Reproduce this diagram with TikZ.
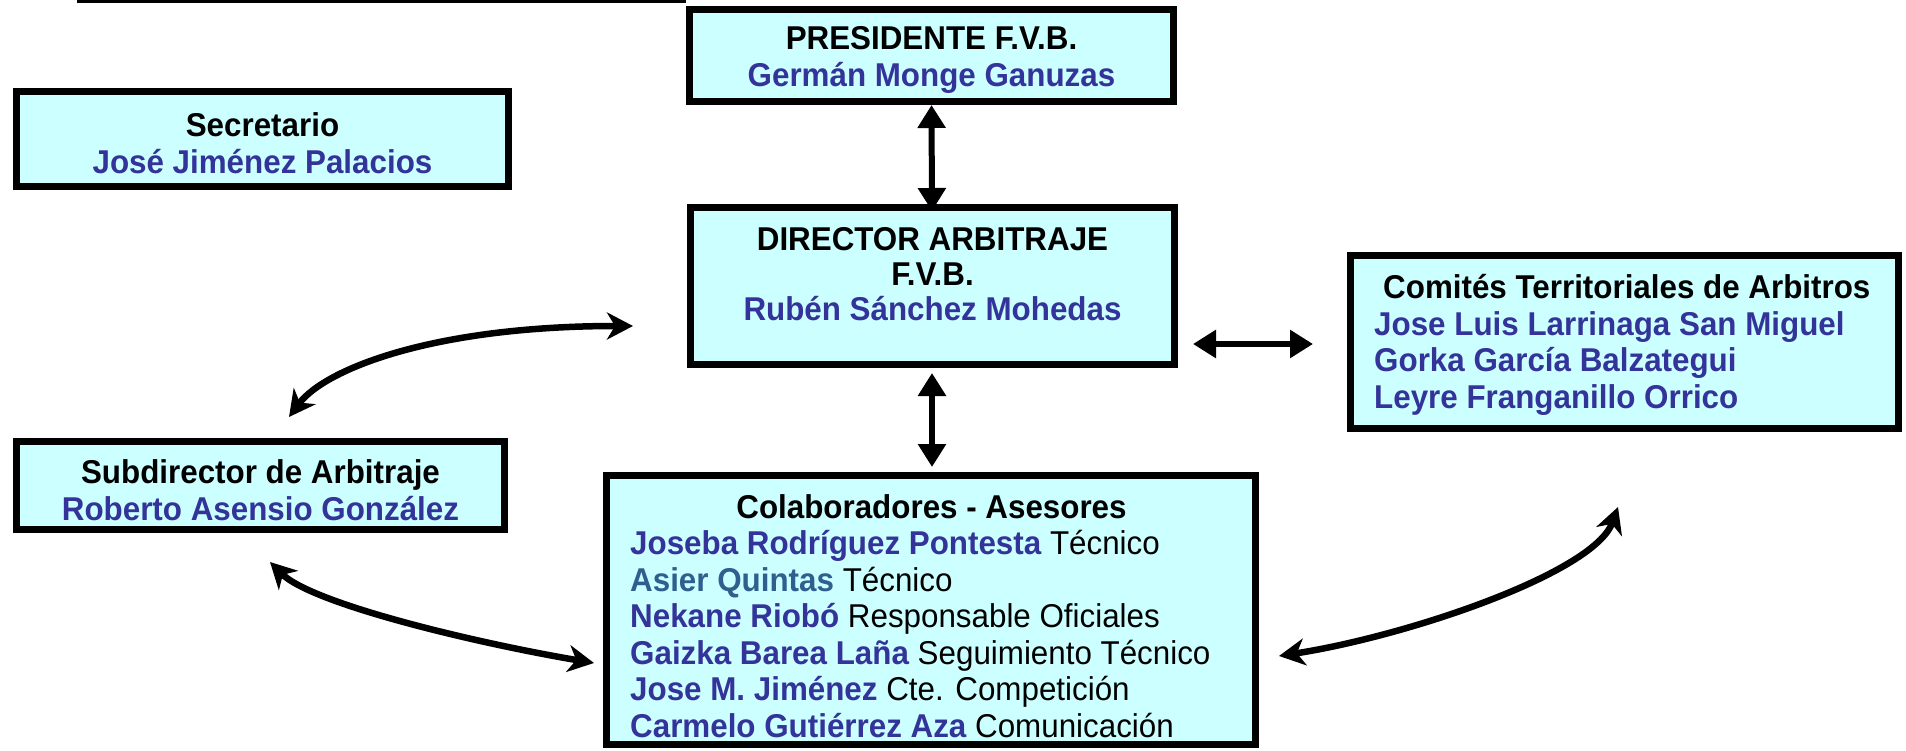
\documentclass[tikz,border=0pt]{standalone}
\usepackage{fontspec}
\setmainfont{Liberation Sans}[FakeStretch=0.95]
\usetikzlibrary{arrows.meta,calc}
\definecolor{boxfill}{HTML}{CCFFFF}
\definecolor{nameblue}{HTML}{333399}
\definecolor{tealblue}{HTML}{2F5F8F}
\begin{document}
\begin{tikzpicture}[x=1pt,y=-1pt,
  box/.style={draw=black, line width=7pt, fill=boxfill, inner sep=0pt},
  txt/.style={font=\fontsize{33}{36.5}\selectfont\bfseries, inner sep=0pt},
  dbl/.style={line width=6pt, {Triangle[width=27pt,length=23pt]}-{Triangle[width=27pt,length=23pt]}},
  crv/.style={line width=6.5pt, {Stealth[width=27pt,length=26pt,inset=8pt]}-{Stealth[width=27pt,length=26pt,inset=8pt]}}]
\useasboundingbox (0,0) rectangle (1906,751);
\fill[white] (0,0) rectangle (1906,751);
% top rule
\draw[line width=3pt] (77,1.5) -- (686,1.5);
% boxes
\node[box, minimum width=484pt, minimum height=92pt] (pres) at (931.5,55.5) {};
\node[box, minimum width=492pt, minimum height=95pt] (sec) at (262.5,139) {};
\node[box, minimum width=484pt, minimum height=157pt] (dir) at (932.5,286) {};
\node[box, minimum width=548pt, minimum height=173pt] (com) at (1624.5,342) {};
\node[box, minimum width=488pt, minimum height=88pt] (sub) at (260.5,485.5) {};
\node[box, minimum width=649pt, minimum height=269pt] (col) at (931,610) {};
% texts
\node[txt, align=center] (presT) at (931.5,60) {PRESIDENTE F.V.B.\\\textcolor{nameblue}{Germán Monge Ganuzas}};
\node[txt, align=center] (secT) at (262.5,143) {Secretario\\\textcolor{nameblue}{José Jiménez Palacios}};
\node[txt, align=center, font=\fontsize{33}{35}\selectfont\bfseries] (dirT) at (932.5,274) {DIRECTOR ARBITRAJE\\F.V.B.\\\textcolor{nameblue}{Rubén Sánchez Mohedas}};
\node[txt, align=left, anchor=west] (comT) at (1374,345) {\hspace*{9pt}Comités Territoriales de Arbitros\\\textcolor{nameblue}{Jose Luis Larrinaga San Miguel}\\\textcolor{nameblue}{Gorka García Balzategui}\\\textcolor{nameblue}{Leyre Franganillo Orrico}};
\node[txt, align=center] (subT) at (260.5,490) {Subdirector de Arbitraje\\\textcolor{nameblue}{Roberto Asensio González}};
\node[txt] (colTitle) at (931.5,507) {Colaboradores - Asesores};
\node[txt, align=left, anchor=west] (colT) at (630,634) {\textcolor{nameblue}{Joseba Rodríguez Pontesta} \mdseries Técnico\\
\textcolor{tealblue}{Asier Quintas} \mdseries Técnico\\
\textcolor{nameblue}{Nekane Riobó} \mdseries Responsable Oficiales\\
\textcolor{nameblue}{Gaizka Barea Laña} \mdseries Seguimiento Técnico\\
\textcolor{nameblue}{Jose M. Jiménez} \mdseries Cte. Competición\\
\textcolor{nameblue}{Carmelo Gutiérrez Aza} \mdseries Comunicación};
% connector end points
\coordinate (pd2) at ($(dir.north)+(-0.5,7)$);
\coordinate (dc1) at ($(dir.south)+(-0.5,5)$);
\coordinate (dc2) at ($(col.north)+(1,-5)$);
\coordinate (hc1) at (1193,344);
\coordinate (hc2) at (1313,344);
\coordinate (ds1) at (289,417);
\coordinate (ds2) at (633,326);
\coordinate (sc1) at (270,562);
\coordinate (sc2) at (594,663);
\coordinate (cc1) at (1279,656);
\coordinate (cc2) at (1618,507);
% connectors
\draw[dbl] (pres.south) -- (pd2);
\draw[dbl] (dc1) -- (dc2);
\draw[dbl] (hc1) -- (hc2);
\draw[crv] (ds1) .. controls (325,369) and (433,326) .. (ds2);
\draw[crv] (sc1) .. controls (312,604) and (476,643) .. (sc2);
\draw[crv] (cc1) .. controls (1408,636) and (1594,573) .. (cc2);
\end{tikzpicture}
\end{document}
